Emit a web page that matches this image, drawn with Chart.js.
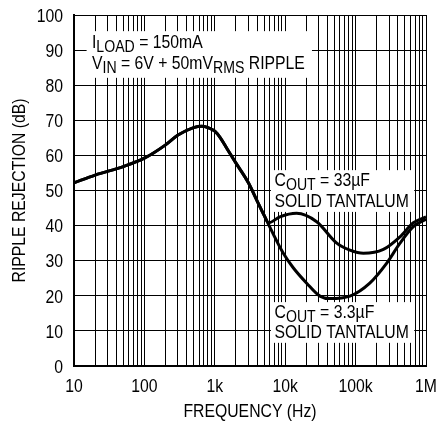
<!DOCTYPE html>
<html lang="en">
<head>
<meta charset="UTF-8" />
<title>Ripple Rejection vs Frequency</title>
<script src="https://cdn.jsdelivr.net/npm/chart.js"></script>
<style>
  html, body { margin: 0; padding: 0; background: #fff; }
  #wrap { width: 437px; height: 423px; }
</style>
</head>
<body>
<div id="wrap"><canvas id="rippleChart" width="437" height="423"></canvas></div>
<script>
  // C_OUT = 33uF solid tantalum
  const freq33 = [10, 20, 50, 100, 200, 300, 500, 650, 800, 1000, 1200, 1500, 2000, 3000, 4000, 5000, 5800, 8400, 14500, 28000, 54000, 83000, 129000, 248000, 427000, 661000, 1000000];
  const db33   = [52.2, 54.4, 56.8, 59.2, 63, 65.8, 67.9, 68.3, 67.9, 66.9, 65.0, 61.8, 57.8, 52.2, 47, 43, 40.8, 42.5, 43.5, 41.1, 35, 33, 32.1, 33.2, 36.8, 40.8, 42.5];

  // C_OUT = 3.3uF solid tantalum
  const freq3v3 = [10, 20, 50, 100, 200, 300, 500, 650, 800, 1000, 1200, 1500, 2000, 3000, 4000, 5000, 9400, 13000, 20200, 31200, 43000, 83000, 159000, 277000, 427000, 661000, 1000000];
  const db3v3   = [52.2, 54.4, 56.8, 59.2, 63, 65.8, 67.9, 68.3, 67.9, 66.9, 65.0, 61.8, 57.8, 52.2, 47, 43, 32.1, 28, 23.6, 19.9, 19.2, 19.9, 23.6, 29.3, 35, 39.7, 41.8];

  const decades = [10, 100, 1000, 10000, 100000, 1000000];
  const decadeLabels = ['10', '100', '1k', '10k', '100k', '1M'];
  const yTicks = [0, 10, 20, 30, 40, 50, 60, 70, 80, 90, 100];

  // no condensed face installed, so text is squeezed to look like a narrow font
  const FONT = "'Liberation Sans', Arial, sans-serif";
  const SQUEEZE = 0.83;

  // every 1..9 step of each decade gets a grid line
  const gridValues = [];
  decades.forEach((d, i) => {
    if (i === decades.length - 1) { gridValues.push(d); return; }
    for (let k = 1; k <= 9; k++) gridValues.push(d * k);
  });

  const notes = [
    { box: [15.1, 24000, 95.4, 82.1], x: 18, lines: [
      { y: 90.6, runs: [['I'], ['LOAD', 1], [' = 150mA']] },
      { y: 84.6, runs: [['V'], ['IN', 1], [' = 6V + 50mV'], ['RMS', 1], [' RIPPLE']] }
    ]},
    { box: [6280, 680000, 55.8, 43.9], x: 7050, lines: [
      { y: 51.3, runs: [['C'], ['OUT', 1], [' = 33µF']] },
      { y: 45.4, runs: [['SOLID TANTALUM']] }
    ]},
    { box: [6280, 680000, 18.2, 6.6], x: 7050, lines: [
      { y: 13.6, runs: [['C'], ['OUT', 1], [' = 3.3µF']] },
      { y: 7.9, runs: [['SOLID TANTALUM']] }
    ]}
  ];

  function squeezeText(ctx, text, x, y, size, align) {
    ctx.font = size + 'px ' + FONT;
    const w = ctx.measureText(text).width * SQUEEZE;
    ctx.textAlign = align;
    ctx.fillText(text, x, y, w);
    return w;
  }

  const textPlugin = {
    id: 'texts',
    beforeDatasetsDraw(chart) {
      const ctx = chart.ctx, xs = chart.scales.x, ys = chart.scales.y;
      ctx.save();
      ctx.textBaseline = 'alphabetic';
      notes.forEach(n => {
        const x1 = xs.getPixelForValue(n.box[0]), x2 = xs.getPixelForValue(n.box[1]);
        const y1 = ys.getPixelForValue(n.box[2]), y2 = ys.getPixelForValue(n.box[3]);
        ctx.fillStyle = '#fff';
        ctx.fillRect(x1, y1, x2 - x1, y2 - y1);
        ctx.fillStyle = '#000';
        n.lines.forEach(line => {
          let px = xs.getPixelForValue(n.x);
          const py = ys.getPixelForValue(line.y);
          line.runs.forEach(([t, sub]) => {
            px += squeezeText(ctx, t, px, py + (sub ? 4 : 0), sub ? 17 : 19, 'left');
          });
        });
      });
      ctx.restore();
    },
    afterDraw(chart) {
      const ctx = chart.ctx, xs = chart.scales.x, ys = chart.scales.y, area = chart.chartArea;
      ctx.save();
      ctx.fillStyle = '#000';
      ctx.textBaseline = 'alphabetic';
      yTicks.forEach(v => squeezeText(ctx, String(v), area.left - 11, ys.getPixelForValue(v) + 6.7, 19, 'right'));
      decades.forEach((v, i) => squeezeText(ctx, decadeLabels[i], xs.getPixelForValue(v), area.bottom + 25.5, 19, 'center'));
      squeezeText(ctx, 'FREQUENCY (Hz)', (area.left + area.right) / 2, area.bottom + 50.7, 19, 'center');
      ctx.translate(25, (area.top + area.bottom) / 2);
      ctx.rotate(-Math.PI / 2);
      squeezeText(ctx, 'RIPPLE REJECTION (dB)', 0, 0, 19, 'center');
      ctx.restore();
    }
  };

  new Chart(document.getElementById('rippleChart'), {
    type: 'line',
    data: {
      datasets: [
        { data: freq33.map((f, i) => ({ x: f, y: db33[i] })) },
        { data: freq3v3.map((f, i) => ({ x: f, y: db3v3[i] })) }
      ]
    },
    options: {
      responsive: false,
      animation: false,
      devicePixelRatio: 1,
      layout: { padding: { top: 15, right: 11, left: 0, bottom: 0 } },
      elements: {
        line: { borderColor: '#000', borderWidth: 3, cubicInterpolationMode: 'monotone', fill: false },
        point: { radius: 0 }
      },
      plugins: { legend: { display: false }, tooltip: { enabled: false } },
      scales: {
        x: {
          type: 'logarithmic',
          min: 10, max: 1000000,
          afterBuildTicks: s => { s.ticks = gridValues.map(v => ({ value: v })); },
          afterFit: s => { s.height = 57; },
          ticks: { display: false, autoSkip: false },
          grid: { color: '#000', lineWidth: 1, drawTicks: false },
          border: { color: '#000', width: 2 }
        },
        y: {
          min: 0, max: 100,
          afterBuildTicks: s => { s.ticks = yTicks.map(v => ({ value: v })); },
          afterFit: s => { s.width = 74; },
          ticks: { display: false },
          grid: { color: '#000', lineWidth: 1, drawTicks: false },
          border: { color: '#000', width: 2 }
        }
      }
    },
    plugins: [textPlugin]
  });
</script>
</body>
</html>
